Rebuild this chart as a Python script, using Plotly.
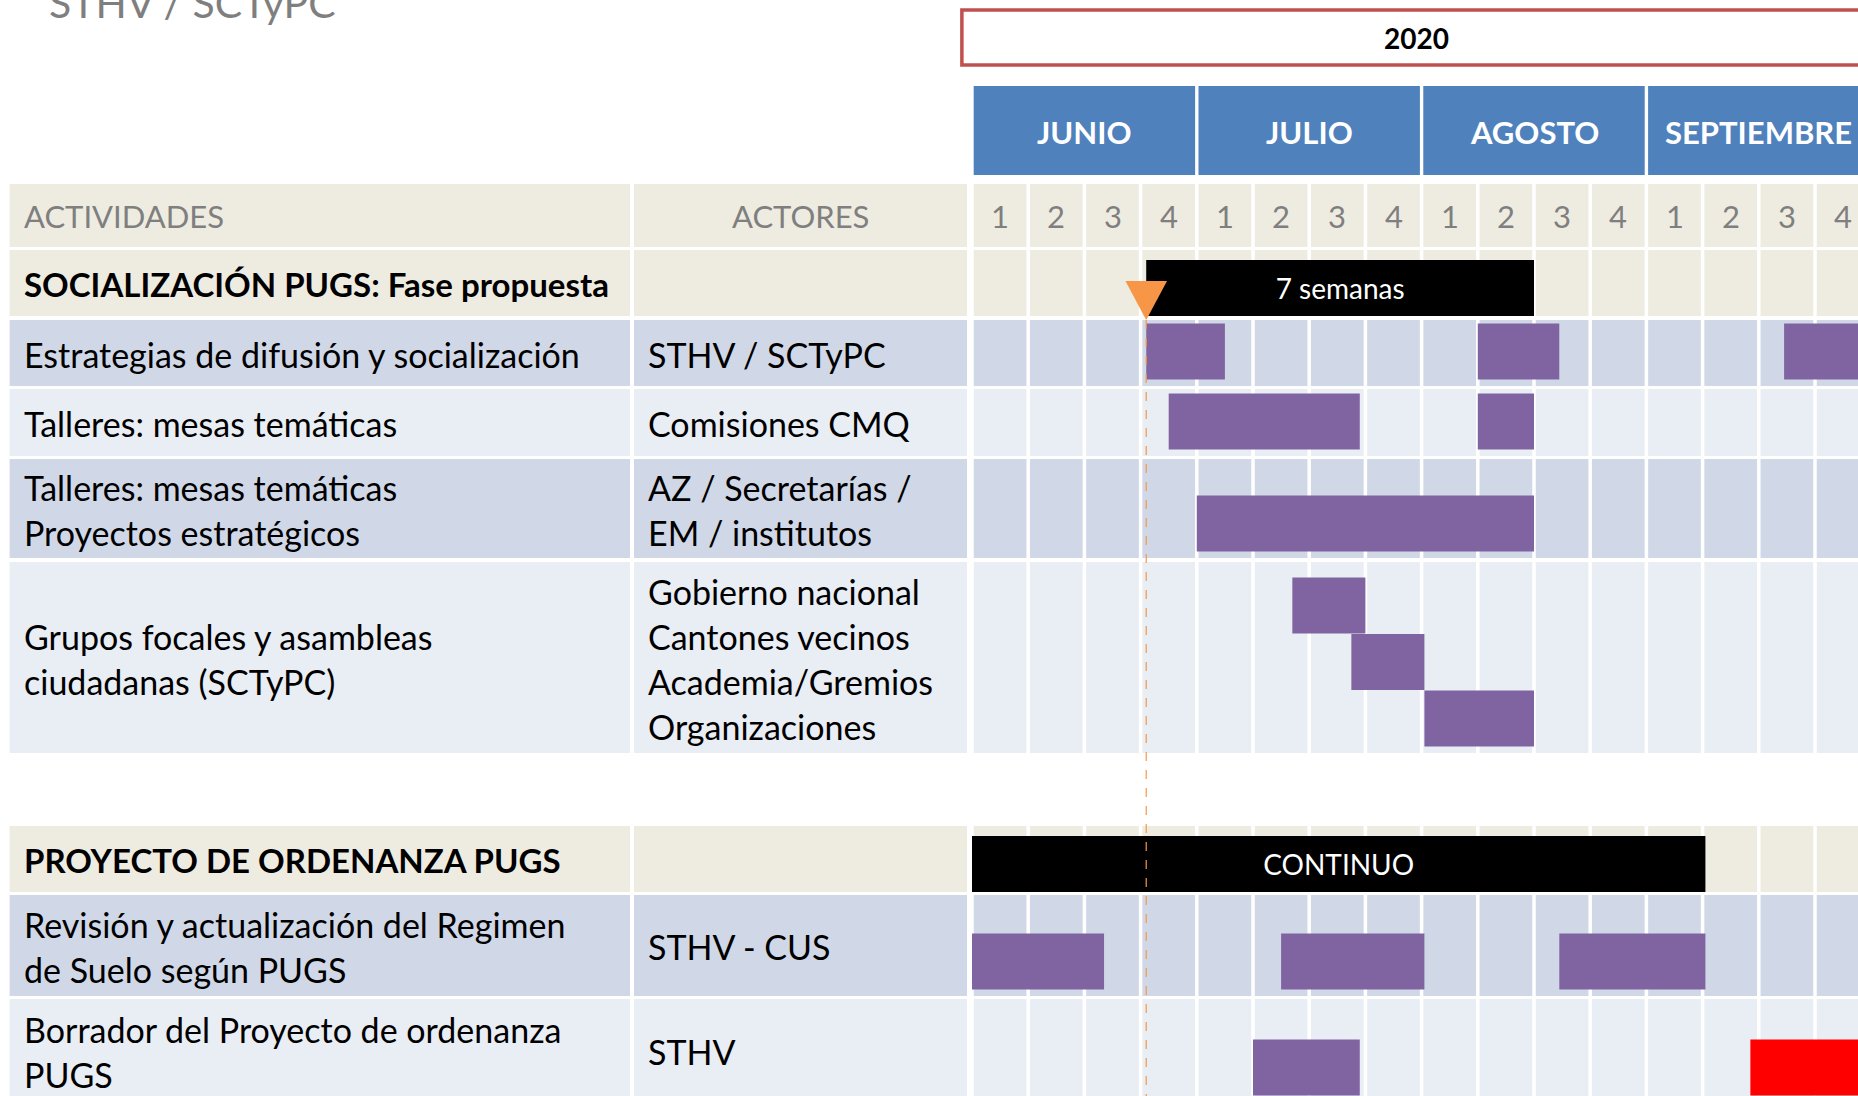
import plotly.graph_objects as go

# ---------------- data ----------------
title_text = "STHV / SCTyPC"
year_label = "2020"
months = ["JUNIO", "JULIO", "AGOSTO", "SEPTIEMBRE"]
week_labels = ["1", "2", "3", "4"] * 4
column_headers = ["ACTIVIDADES", "ACTORES"]

activities = [
    "SOCIALIZACIÓN PUGS: Fase propuesta",
    "Estrategias de difusión y socialización",
    "Talleres: mesas temáticas",
    "Talleres: mesas temáticas\nProyectos estratégicos",
    "Grupos focales y asambleas\nciudadanas (SCTyPC)",
    "PROYECTO DE ORDENANZA PUGS",
    "Revisión y actualización del Regimen\nde Suelo según PUGS",
    "Borrador del Proyecto de ordenanza\nPUGS",
]
actors = [
    "",
    "STHV / SCTyPC",
    "Comisiones CMQ",
    "AZ / Secretarías /\nEM / institutos",
    "Gobierno nacional\nCantones vecinos\nAcademia/Gremios\nOrganizaciones",
    "",
    "STHV - CUS",
    "STHV",
]
row_is_phase = [True, False, False, False, False, True, False, False]

# phase bars (black), in weeks counted from 1 June
phase_rows = [0, 5]
phase_start = [3.1, 0]
phase_end = [10, 13.05]
phase_labels = ["7 semanas", "CONTINUO"]

# task bars; lane counts upward from the bottom of the row
task_rows = [1, 1, 1, 2, 2, 3, 4, 4, 4, 6, 6, 6, 7, 7]
task_lane = [0, 0, 0, 0, 0, 0, 2, 1, 0, 0, 0, 0, 0, 0]
task_start = [3.1, 9, 14.45, 3.5, 9, 4, 5.7, 6.75, 8.05, 0, 5.5, 10.45, 5, 13.85]
task_end = [4.5, 10.45, 16, 6.9, 10, 10, 7, 8.05, 10, 2.35, 8.05, 13.05, 6.9, 16]
task_alert = [False] * 13 + [True]

milestone_week = 3.1

# ---------------- layout geometry (pixels) ----------------
W, H = 1858, 1096
WEEK0_PX, WEEK_PX = 972.0, 56.2
x_range = [-WEEK0_PX / WEEK_PX, (W - WEEK0_PX) / WEEK_PX]

row_top = [250, 320, 389, 459, 562, 826, 895, 999]
row_bot = [316, 386, 456, 558, 753, 892, 996, 1102]
HEAD = (184, 247)
MONTH = (86, 175)
YEAR = (10, 65)
COL1 = (9.6, 630)
COL2 = (634, 967)
TEXT1_X, TEXT2_X = 22, 646
LINE_GAP = 45
BAR_H = 56
LANE_H = 56.5

BEIGE = "#EEECE1"
BAND_DARK = "#D0D8E8"
BAND_LIGHT = "#E9EDF4"
PURPLE = "#8064A2"
BLUE = "#4F81BD"
RED_BORDER = "#C0504D"
ORANGE = "#F79646"
GRAY = "#7F7F7F"
FONT = "Lato"

shapes = []
annotations = []


def cell_rects(y0, y1, color):
    for c0, c1 in (COL1, COL2):
        shapes.append(dict(type="rect", xref="paper", yref="y", x0=c0 / W, x1=c1 / W,
                           y0=y0, y1=y1, fillcolor=color, line_width=0, layer="below"))
    shapes.append(dict(type="rect", xref="x", yref="y", x0=0, x1=17, y0=y0, y1=y1,
                       fillcolor=color, line_width=0, layer="below"))


def text(x, y, s, xref="paper", size=34, color="black", bold=False, anchor="left"):
    annotations.append(dict(x=x, y=y, xref=xref, yref="y", text=s, showarrow=False,
                            xanchor=anchor, yanchor="middle",
                            font=dict(family=FONT, size=size, color=color,
                                      weight="bold" if bold else "normal")))


# header row
cell_rects(HEAD[0], HEAD[1], BEIGE)
head_mid = (HEAD[0] + HEAD[1]) / 2
text(TEXT1_X / W, head_mid, column_headers[0], size=31, color=GRAY)
text((COL2[0] + COL2[1]) / 2 / W, head_mid, column_headers[1], size=31, color=GRAY,
     anchor="center")
for i, lab in enumerate(week_labels):
    text(i + 0.5, head_mid, lab, xref="x", size=31, color=GRAY, anchor="center")

# body rows
band = 0
for r in range(len(activities)):
    if row_is_phase[r]:
        color = BEIGE
        band = 0
    else:
        color = BAND_DARK if band % 2 == 0 else BAND_LIGHT
        band += 1
    cell_rects(row_top[r], row_bot[r], color)
    mid = (row_top[r] + row_bot[r]) / 2 + 1
    for col_x, s in ((TEXT1_X, activities[r]), (TEXT2_X, actors[r])):
        lines = s.split("\n") if s else []
        for k, line in enumerate(lines):
            y = mid + (k - (len(lines) - 1) / 2) * LINE_GAP
            text(col_x / W, y, line, size=33 if row_is_phase[r] else 34,
                 bold=row_is_phase[r])

# white week separators
for k in range(17):
    shapes.append(dict(type="line", xref="x", yref="y", x0=k, x1=k, y0=HEAD[0] - 2, y1=H + 10,
                       line=dict(color="white", width=3.5), layer="below"))

# month header
for m, name in enumerate(months):
    shapes.append(dict(type="rect", xref="x", yref="y", x0=4 * m + 0.03, x1=4 * m + 3.97,
                       y0=MONTH[0], y1=MONTH[1], fillcolor=BLUE, line_width=0, layer="below"))
    text(4 * m + 2, (MONTH[0] + MONTH[1]) / 2 + 1, name, xref="x", size=31, color="white",
         bold=True, anchor="center")

# year box
year_x0, year_x1 = -0.18, 16.0
shapes.append(dict(type="rect", xref="x", yref="y", x0=year_x0, x1=year_x1 + 0.5,
                   y0=YEAR[0], y1=YEAR[1], fillcolor="white",
                   line=dict(color=RED_BORDER, width=3.5), layer="below"))
text((year_x0 + year_x1) / 2, (YEAR[0] + YEAR[1]) / 2, year_label, xref="x",
     size=28, bold=True, anchor="center")

# title (partly cut off at the top of the page, as in the slide)
text(47 / W, 2, title_text, size=41, color=GRAY)

# milestone dashed line
shapes.append(dict(type="line", xref="x", yref="y", x0=milestone_week, x1=milestone_week,
                   y0=320, y1=H + 10, line=dict(color=ORANGE, width=1.2, dash="dash"),
                   layer="above"))

fig = go.Figure()

# task bars
for alert, color in ((False, PURPLE), (True, "#FF0000")):
    idx = [i for i in range(len(task_rows)) if task_alert[i] == alert]
    fig.add_trace(go.Bar(
        orientation="h",
        y=[row_bot[task_rows[i]] - 6.5 - BAR_H / 2 - task_lane[i] * LANE_H for i in idx],
        x=[task_end[i] - task_start[i] for i in idx],
        base=[task_start[i] for i in idx],
        width=BAR_H,
        marker=dict(color=color, line_width=0),
        hoverinfo="skip",
    ))

# phase bars
fig.add_trace(go.Bar(
    orientation="h",
    y=[(row_top[r] + row_bot[r]) / 2 + 5 for r in phase_rows],
    x=[e - s for s, e in zip(phase_start, phase_end)],
    base=phase_start,
    width=BAR_H,
    marker=dict(color="black", line_width=0),
    text=phase_labels,
    textposition="inside",
    insidetextanchor="middle",
    constraintext="none",
    textfont=dict(family=FONT, size=28, color="white"),
    hoverinfo="skip",
))

# milestone triangle
tri_half = 0.37
fig.add_trace(go.Scatter(
    x=[milestone_week - tri_half, milestone_week + tri_half, milestone_week, milestone_week - tri_half],
    y=[281, 281, 320, 281],
    mode="lines", fill="toself", fillcolor=ORANGE, line=dict(width=0, color=ORANGE),
    hoverinfo="skip",
))

fig.update_layout(
    width=W, height=H,
    margin=dict(l=0, r=0, t=0, b=0),
    paper_bgcolor="white", plot_bgcolor="white",
    showlegend=False, barmode="overlay",
    xaxis=dict(range=x_range, visible=False, fixedrange=True),
    yaxis=dict(range=[H, 0], visible=False, fixedrange=True),
    shapes=shapes, annotations=annotations,
)

# drop the browser's default 8px body margin so the slide fills the window
fig.write_html("out.html", config={"displayModeBar": False},
               post_script="document.body.style.margin='0';document.body.style.overflow='hidden';")
